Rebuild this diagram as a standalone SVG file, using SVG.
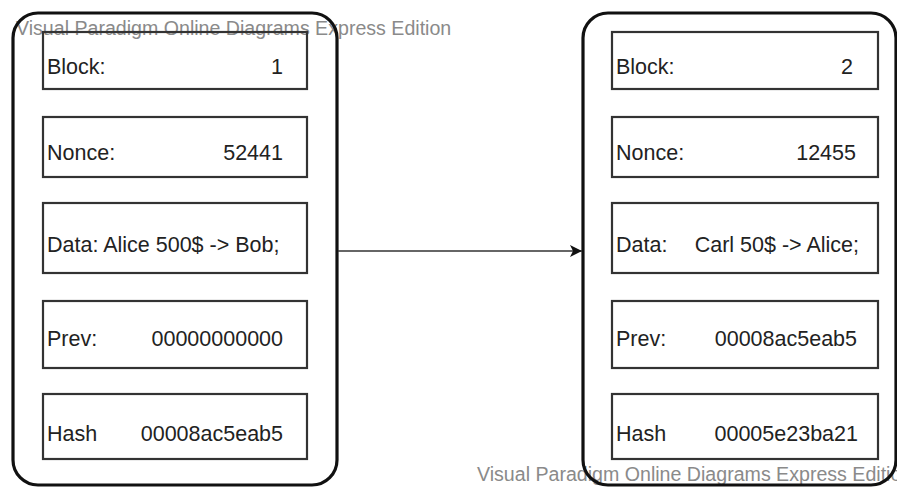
<svg xmlns="http://www.w3.org/2000/svg" width="897" height="487" viewBox="0 0 897 487">
<style>
.wm{font-family:"Liberation Sans",Arial,sans-serif;font-size:19.6px;fill:#8a8a8a}
.t{font-family:"Liberation Sans",Arial,sans-serif;font-size:21.5px;fill:#222}
.v{font-family:"Liberation Sans",Arial,sans-serif;font-size:21.5px;fill:#222;text-anchor:end}
.outer{fill:none;stroke:#111;stroke-width:3.2}
.box{fill:none;stroke:#333;stroke-width:2.2}
.edge{fill:none;stroke:#333;stroke-width:1.6}
</style>
<defs>
<marker id="arr" viewBox="0 0 12 12" refX="12" refY="6" markerWidth="12" markerHeight="12" markerUnits="userSpaceOnUse" orient="auto">
<path d="M0,0 L12,6 L0,12 L3,6 Z" fill="#111"/>
</marker>
</defs>
<text class="wm" x="16" y="35">Visual Paradigm Online Diagrams Express Edition</text>
<text class="wm" x="477" y="481">Visual Paradigm Online Diagrams Express Edition</text>
<g id="block1">
<rect class="outer" x="13" y="13" width="324" height="472" rx="25"/>
<g id="b1-block"><rect class="box" x="43" y="32" width="264" height="57"/><text class="t" x="47" y="74">Block:</text><text class="v" x="283" y="74">1</text></g>
<g id="b1-nonce"><rect class="box" x="43" y="117" width="264" height="60"/><text class="t" x="47" y="160">Nonce:</text><text class="v" x="283" y="160">52441</text></g>
<g id="b1-data"><rect class="box" x="43" y="203" width="264" height="70"/><text class="t" x="47" y="252">Data: Alice 500$ -&gt; Bob;</text></g>
<g id="b1-prev"><rect class="box" x="43" y="301" width="264" height="67"/><text class="t" x="47" y="346">Prev:</text><text class="v" x="283" y="346">00000000000</text></g>
<g id="b1-hash"><rect class="box" x="43" y="394" width="264" height="65"/><text class="t" x="47" y="441">Hash</text><text class="v" x="283" y="441">00008ac5eab5</text></g>
</g>
<g id="block2">
<rect class="outer" x="583" y="13" width="313" height="472" rx="25"/>
<g id="b2-block"><rect class="box" x="612" y="32" width="266" height="57"/><text class="t" x="616" y="74">Block:</text><text class="v" x="853" y="74">2</text></g>
<g id="b2-nonce"><rect class="box" x="612" y="117" width="266" height="60"/><text class="t" x="616" y="160">Nonce:</text><text class="v" x="856" y="160">12455</text></g>
<g id="b2-data"><rect class="box" x="612" y="203" width="266" height="70"/><text class="t" x="616" y="252">Data:</text><text class="v" x="859" y="252">Carl 50$ -&gt; Alice;</text></g>
<g id="b2-prev"><rect class="box" x="612" y="301" width="266" height="67"/><text class="t" x="616" y="346">Prev:</text><text class="v" x="857" y="346">00008ac5eab5</text></g>
<g id="b2-hash"><rect class="box" x="612" y="394" width="266" height="65"/><text class="t" x="616" y="441">Hash</text><text class="v" x="858" y="441">00005e23ba21</text></g>
</g>
<g id="connectors">
<line class="edge" x1="338" y1="251" x2="582" y2="251" marker-end="url(#arr)"/>
</g>
</svg>
